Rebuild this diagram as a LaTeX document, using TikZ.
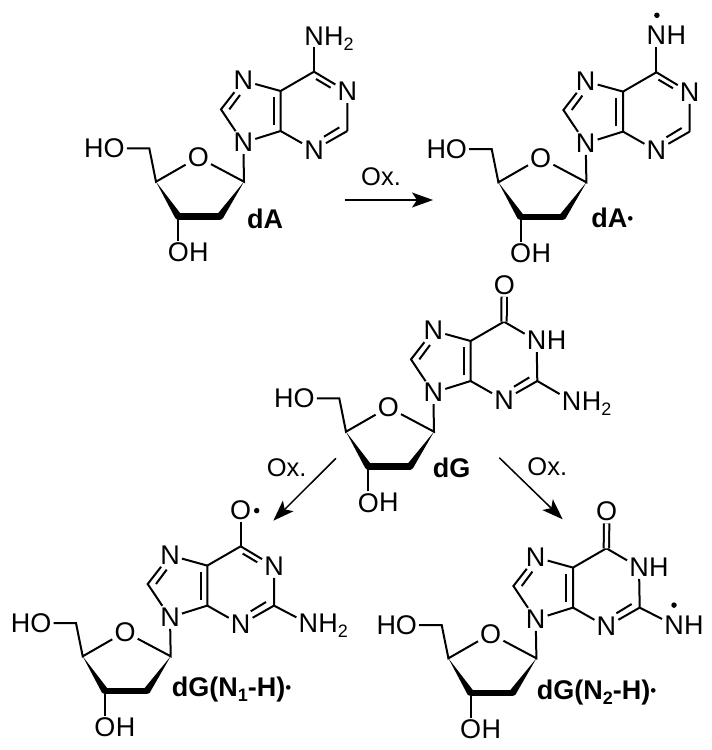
\documentclass[tikz,border=0pt]{standalone}
\usepackage{fontspec}
\setmainfont{Liberation Sans}
\usetikzlibrary{positioning,calc,arrows.meta}
\newcommand{\atomsub}[1]{\raisebox{-5pt}[0pt][0pt]{\fontsize{18}{18}\selectfont #1}}
\newcommand{\labeldot}{\raisebox{3pt}{\fontsize{17}{17}\selectfont\textmd{•}}}
\newcommand{\wedgebond}[2]{\fill ($(#2)!3.5pt!90:(#1)$) -- (#1) -- ($(#2)!3.5pt!-90:(#1)$) -- cycle;}
\tikzset{
  bond/.style={line width=2pt},
  atom/.style={font=\fontsize{27}{27}\selectfont,inner sep=2pt},
  label/.style={font=\fontsize{27}{27}\selectfont\bfseries,inner sep=0pt},
  oxtext/.style={font=\fontsize{25.5}{25.5}\selectfont,inner sep=0pt},
  radical/.style={circle,fill=black,minimum size=5.5pt,inner sep=0pt},
  reaction/.style={line width=1.5pt,-{Stealth[length=21pt,width=15pt,inset=5pt]}},
  pics/nucleoside/.style={code={
    \node[atom] (-N9) at (0,0) {N};
    \node[atom] (-N7) at (0,-62) {N};
    \node[atom] (-N3) at (70.7,7.3) {N};
    \coordinate (-C8) at (-22.3,-33.3);
    \coordinate (-C4) at (37.3,-11.7);
    \coordinate (-C5) at (37.3,-51.7);
    \coordinate (-C6) at (70.7,-71);
    \coordinate (-C2) at (104,-11.7);
    \coordinate (-C8i) at (-14,-33.3);
    \coordinate (-N7i) at (-3.3,-47.7);
    \coordinate (-C4i) at (30.7,-17.7);
    \coordinate (-C5i) at (30.7,-45.3);
    \coordinate (-C2i) at (96,-15.3);
    \coordinate (-N3i) at (80.7,-6);
    \draw[bond] (-N9) -- (-C8) -- (-N7) -- (-C5) -- (-C6);
    \draw[bond] (-C8i) -- (-N7i);
    \draw[bond] (-N9) -- (-C4) -- (-C5);
    \draw[bond] (-C4i) -- (-C5i);
    \draw[bond] (-C4) -- (-N3) -- (-C2);
    \draw[bond] (-N3i) -- (-C2i);
    \node[atom] (-O4) at (-45,14.7) {O};
    \node[atom,anchor=east] (-HO) at (-116.5,5.7) {HO};
    \node[atom] (-O3) at (-65,110) {O};
    \node[atom,right=-4pt of -O3] (-H3) {H};
    \coordinate (-C1p) at (0.7,39);
    \coordinate (-C2p) at (-23.3,73.7);
    \coordinate (-C3p) at (-65,73.7);
    \coordinate (-C4p) at (-87.3,39);
    \coordinate (-C5p) at (-94,5.7);
    \draw[bond] (-N9) -- (-C1p) -- (-O4) -- (-C4p) -- (-C5p) -- (-HO);
    \draw[bond] (-C3p) -- (-O3);
    \wedgebond{-C4p}{-C3p}
    \wedgebond{-C1p}{-C2p}
    \draw[line width=6.5pt,line cap=round] (-C3p) -- (-C2p);
  }},
  pics/imine/.style={code={
    \node[atom] (-N1) at (104,-51) {N};
    \coordinate (-C6i) at (72.7,-63.7);
    \coordinate (-N1i) at (87.3,-55);
    \draw[bond] (-C6) -- (-N1) -- (-C2);
    \draw[bond] (-C6i) -- (-N1i);
  }},
  pics/lactam/.style={code={
    \node[atom] (-N1) at (103.3,-52) {N};
    \node[atom,right=-4pt of -N1] (-H1) {H};
    \node[atom] (-O6) at (71,-107.7) {O};
    \draw[bond] (-C6) -- (-N1) -- (-C2);
    \draw[bond,double,double distance=3.4pt] (-C6) -- (-O6);
  }}
}
\begin{document}
\begin{tikzpicture}[x=1pt,y=-1pt]
\useasboundingbox (0,0) rectangle (712,750);

\pic (dA) at (243.3,142.7) {nucleoside};
\pic (dA) at (243.3,142.7) {imine};
\node[atom] (dA-N6) at ($(dA-C6)+(0,-35.7)$) {N};
\node[atom,right=-4pt of dA-N6] (dA-H6) {H\atomsub{2}};
\draw[bond] (dA-C6) -- (dA-N6);
\node[label] (dA-name) at (265,219) {dA};

\pic (dAr) at (585.7,143.3) {nucleoside};
\pic (dAr) at (585.7,143.3) {imine};
\node[atom] (dAr-N6) at ($(dAr-C6)+(0,-37)$) {N};
\node[atom,right=-4pt of dAr-N6] (dAr-H6) {H};
\node[radical] (dAr-dot) at ($(dAr-N6)+(0.5,-20)$) {};
\draw[bond] (dAr-C6) -- (dAr-N6);
\node[label] (dAr-name) at (612.3,218.3) {dA\labeldot};

\pic (dG) at (433.3,392.7) {nucleoside};
\pic (dG) at (433.3,392.7) {lactam};
\node[atom] (dG-N2) at ($(dG-C2)+(34.3,20)$) {N};
\node[atom,right=-4pt of dG-N2] (dG-H2) {H\atomsub{2}};
\draw[bond] (dG-C2) -- (dG-N2);
\node[label] (dG-name) at (451.7,468.3) {dG};

\pic (dGa) at (170,617.3) {nucleoside};
\pic (dGa) at (170,617.3) {imine};
\node[atom] (dGa-O6) at ($(dGa-C6)+(0,-35.7)$) {O};
\node[radical] (dGa-dot) at ($(dGa-O6)+(16,0)$) {};
\draw[bond] (dGa-C6) -- (dGa-O6);
\node[atom] (dGa-N2) at ($(dGa-C2)+(34.3,18)$) {N};
\node[atom,right=-4pt of dGa-N2] (dGa-H2) {H\atomsub{2}};
\draw[bond] (dGa-C2) -- (dGa-N2);
\node[label] (dGa-name) at (231.7,690) {dG(N\atomsub{1}-H)\labeldot};

\pic (dGb) at (535.7,619.3) {nucleoside};
\pic (dGb) at (535.7,619.3) {lactam};
\node[atom] (dGb-N2) at ($(dGb-C2)+(34.3,17.5)$) {N};
\node[atom,right=-4pt of dGb-N2] (dGb-H2) {H};
\node[radical] (dGb-dot) at ($(dGb-N2)+(0,-20)$) {};
\draw[bond] (dGb-C2) -- (dGb-N2);
\node[label] (dGb-name) at (596.7,693) {dG(N\atomsub{2}-H)\labeldot};

\coordinate (oxa-start) at (345,200);
\coordinate (oxa-end) at (433,200);
\draw[reaction] (oxa-start) -- (oxa-end);
\node[oxtext] (oxa-text) at (381,177) {Ox.};

\coordinate (oxb-start) at (336,458.3);
\coordinate (oxb-end) at (273.3,520.7);
\draw[reaction] (oxb-start) -- (oxb-end);
\node[oxtext] (oxb-text) at (286.7,467.7) {Ox.};

\coordinate (oxc-start) at (499.3,457.7);
\coordinate (oxc-end) at (562.7,519.3);
\draw[reaction] (oxc-start) -- (oxc-end);
\node[oxtext] (oxc-text) at (547.3,466.7) {Ox.};
\end{tikzpicture}
\end{document}
